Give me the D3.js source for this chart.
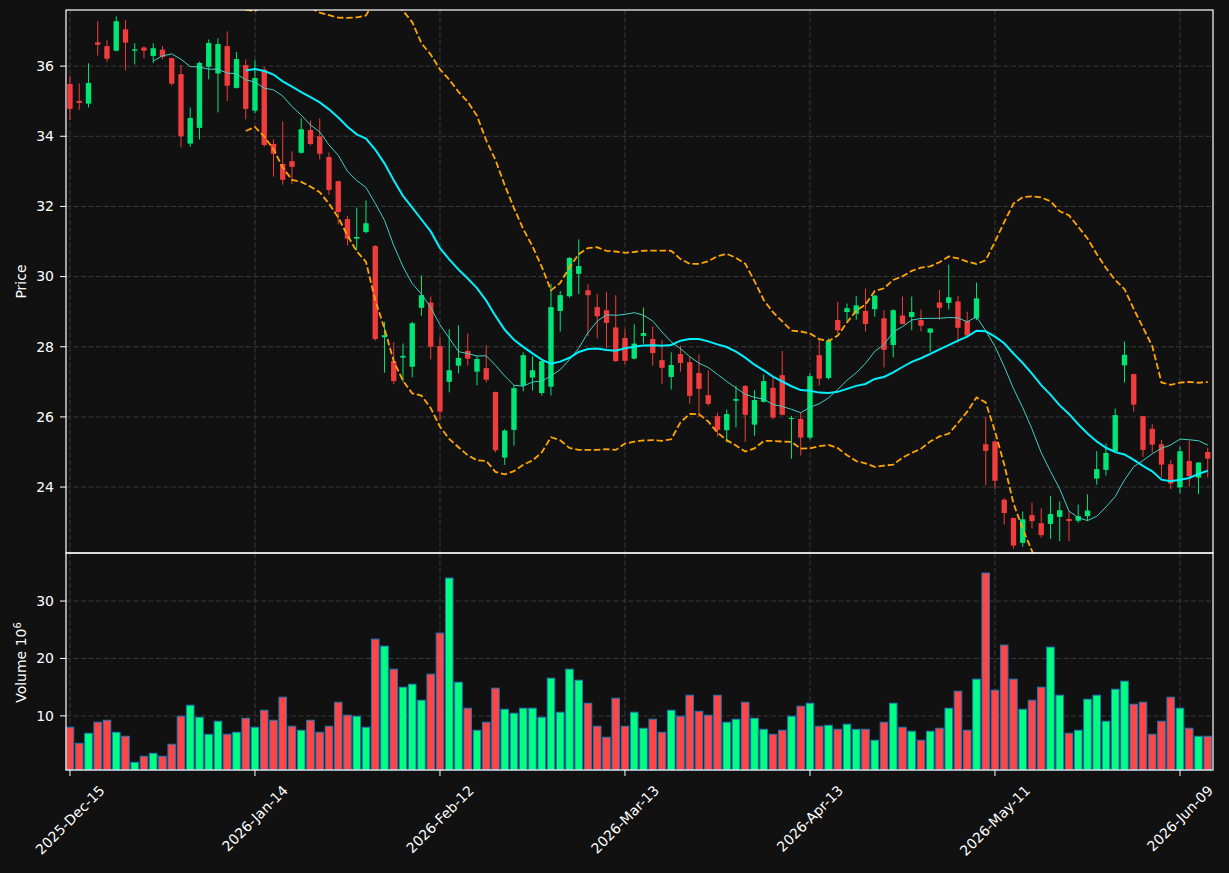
<!DOCTYPE html>
<html>
<head>
<meta charset="utf-8">
<script src="https://cdn.jsdelivr.net/npm/d3@7"></script>
<style>
  body { margin: 0; background: #111111; }
  text { font-family: "DejaVu Sans", sans-serif; fill: #ffffff; }
</style>
</head>
<body>
<svg id="chart"></svg>
<script>
// OHLC, one value per trading day (124 days)
const opens = [35.49,35.01,34.93,36.68,36.57,36.44,37.05,36.44,36.53,36.29,36.47,36.23,35.77,33.79,34.24,35.98,35.79,36.57,35.38,36.03,
  34.73,35.90,33.78,33.21,33.29,33.53,34.18,34.00,33.41,32.72,31.64,31.08,31.27,30.87,28.27,27.59,27.69,27.43,29.11,29.26,
  28.02,27.00,27.46,27.88,27.29,27.39,26.71,24.84,25.63,26.89,27.12,26.68,26.86,29.02,29.44,30.08,29.61,29.13,29.04,28.55,
  28.25,27.66,28.31,28.22,27.62,27.14,27.79,27.56,27.25,26.62,26.02,25.62,26.46,26.88,25.78,26.43,26.83,27.19,25.94,25.94,
  25.41,27.76,27.11,28.76,28.99,28.94,29.02,29.07,28.81,28.05,28.89,28.85,28.76,28.40,29.26,29.25,29.29,28.74,28.81,25.22,
  25.30,23.64,23.12,22.41,23.20,22.97,22.95,23.15,23.09,23.04,23.17,24.24,24.49,25.02,27.47,27.22,26.02,25.66,25.22,24.65,
  23.99,24.74,24.27,25.00];
const highs = [35.72,35.51,36.08,37.28,36.74,37.42,37.31,36.65,36.57,36.65,36.57,36.24,36.03,34.82,36.13,36.76,36.79,36.99,36.40,36.19,
  36.17,35.98,33.91,34.42,33.57,34.51,34.45,34.51,33.54,32.73,31.73,31.97,32.17,30.90,28.71,28.13,28.09,28.71,30.03,29.43,
  28.28,28.50,28.61,28.38,27.73,28.04,26.72,25.65,26.91,27.84,27.73,27.60,29.80,29.59,30.56,31.06,29.78,29.50,29.56,29.47,
  28.50,28.64,29.12,28.58,28.19,27.84,28.03,27.73,27.78,27.33,26.12,26.21,26.89,26.91,26.76,27.21,27.13,27.88,26.03,26.12,
  27.24,28.19,28.24,29.28,29.23,29.44,29.66,29.47,29.04,29.07,29.43,29.43,29.06,28.53,29.62,30.34,29.45,29.00,29.83,26.00,
  25.31,23.68,23.13,23.30,23.56,23.39,23.75,23.59,23.31,23.50,23.79,25.02,25.24,26.24,28.15,27.23,26.03,25.79,25.34,24.77,
  25.15,25.32,24.71,25.12];
const lows = [34.46,34.75,34.82,36.30,36.12,36.42,35.88,36.05,36.22,36.09,36.19,35.44,33.68,33.70,33.91,35.62,34.68,35.01,35.36,34.48,
  34.65,33.70,32.85,32.62,32.64,33.50,33.74,33.34,32.33,31.49,30.89,30.74,31.23,28.17,27.26,26.93,27.00,27.13,28.88,27.64,
  25.91,26.70,27.24,27.46,26.90,26.98,24.99,24.63,25.18,26.73,26.75,26.61,26.61,28.43,29.40,29.50,28.31,28.24,27.95,27.57,
  27.50,27.64,28.09,27.46,26.94,26.78,27.29,26.38,26.00,26.32,25.44,25.27,25.70,25.29,25.46,26.41,25.93,26.04,24.81,24.90,
  25.36,26.89,27.07,28.38,28.73,28.77,28.44,28.86,27.41,27.70,28.63,28.47,28.44,27.86,28.77,29.06,28.11,28.30,28.76,24.05,
  23.94,22.93,22.24,22.30,22.82,22.56,22.52,22.46,22.46,22.98,23.03,24.07,24.33,25.00,26.98,26.15,24.86,24.98,24.27,23.94,
  23.82,24.01,23.80,24.27];
const closes = [34.78,34.95,35.52,36.61,36.21,37.28,36.67,36.48,36.44,36.51,36.26,35.50,34.00,34.52,36.09,36.66,36.63,35.44,36.20,34.78,
  35.66,33.75,33.50,32.76,33.13,34.20,33.78,33.50,32.47,31.84,31.08,31.13,31.52,28.22,28.33,27.02,27.74,28.67,29.47,28.00,
  26.15,27.33,27.68,27.66,27.65,27.06,25.05,25.61,26.82,27.76,27.33,27.59,29.13,29.47,30.53,30.30,29.47,28.87,28.68,27.59,
  27.60,28.09,28.39,27.82,27.40,27.48,27.54,26.60,26.80,26.37,25.63,26.08,26.51,26.06,26.48,27.02,25.98,26.06,25.97,25.41,
  27.16,27.09,28.17,28.47,29.10,29.18,28.65,29.46,27.91,29.04,28.65,28.99,28.60,28.52,29.11,29.41,28.54,28.32,29.38,25.03,
  24.18,23.26,22.33,23.08,23.03,22.63,23.23,23.34,23.03,23.17,23.33,24.51,24.97,26.05,27.77,26.35,25.06,25.21,24.64,24.10,
  25.02,24.31,24.70,24.81];
// volume in millions
const volumes = [8.02,5.23,6.98,8.90,9.24,7.15,6.45,1.92,2.97,3.49,2.97,5.06,9.94,11.86,9.77,6.80,9.07,6.80,7.15,9.59,
  8.02,10.99,9.24,13.26,8.20,7.50,9.24,7.15,8.20,12.38,10.12,9.94,8.02,23.37,22.15,18.14,15.00,15.52,12.73,17.27,
  24.42,34.01,15.87,11.34,7.50,8.90,14.83,11.16,10.47,11.34,11.34,9.77,16.57,10.64,18.14,16.22,12.21,8.20,6.28,13.08,
  8.20,10.64,7.85,9.42,7.15,10.99,9.94,13.60,10.81,10.12,13.60,8.90,9.42,12.38,9.59,7.67,6.80,7.50,9.94,11.69,
  12.21,8.20,8.37,7.67,8.55,7.67,7.67,5.76,8.90,12.21,8.02,7.33,5.76,7.33,7.85,11.34,14.30,7.50,16.40,34.88,
  14.48,22.33,16.40,11.16,12.73,15.00,21.98,13.60,6.98,7.50,12.91,13.60,9.07,14.65,16.05,12.03,12.38,6.80,9.07,13.26,
  11.34,7.85,6.45,6.45];

// x tick labels, one every 20 trading days
const tickIndex = [0, 20, 40, 60, 80, 100, 120];
const tickLabels = ["2025-Dec-15","2026-Jan-14","2026-Feb-12","2026-Mar-13","2026-Apr-13","2026-May-11","2026-Jun-09"];
const priceTicks = [24, 26, 28, 30, 32, 34, 36];
const volumeTicks = [10, 20, 30];

const width = 1229, height = 873;
const left = 66, right = 1213;
const priceTop = 10, priceBottom = 553, volBottom = 770;

const upCandle = "#00e676", downCandle = "#f03c3c";
const upVol = "#00ff80", downVol = "#ff4545";

const svg = d3.select("#chart").attr("width", width).attr("height", height)
  .style("background", "#111111");

const n = closes.length;
const idx = d3.range(n);
const x = d3.scaleLinear().domain([-0.43, n - 0.43]).range([left, right]);
const step = x(1) - x(0);
const yP = d3.scaleLinear().domain([22.12, 37.6]).range([priceBottom, priceTop]);
const yV = d3.scaleLinear().domain([0.3 * d3.min(volumes), 1.1 * d3.max(volumes)]).range([volBottom, priceBottom]);

const isUp = i => closes[i] >= opens[i];

// moving averages and bollinger bands from the closes
function rolling(arr, len, fn) {
  return arr.map((_, i) => i < len - 1 ? null : fn(arr.slice(i - len + 1, i + 1)));
}
const ma10 = rolling(closes, 10, a => d3.mean(a));
const ma20 = rolling(closes, 20, a => d3.mean(a));
const sd20 = rolling(closes, 20, a => { const m = d3.mean(a); return Math.sqrt(d3.mean(a, v => (v - m) ** 2)); });
const bbUp = ma20.map((m, i) => m == null ? null : m + 2 * sd20[i]);
const bbLo = ma20.map((m, i) => m == null ? null : m - 2 * sd20[i]);

svg.append("defs").append("clipPath").attr("id", "clipP")
  .append("rect").attr("x", left).attr("y", priceTop).attr("width", right - left).attr("height", priceBottom - priceTop);

// grids
const gridColor = "#3a3a3a";
function grid(y0, y1, yScale, ticks) {
  const g = svg.append("g");
  g.selectAll(".gx").data(tickIndex).join("line")
    .attr("x1", d => x(d)).attr("x2", d => x(d)).attr("y1", y0).attr("y2", y1)
    .attr("stroke", gridColor).attr("stroke-dasharray", "5,2.5");
  g.selectAll(".gy").data(ticks).join("line")
    .attr("x1", left).attr("x2", right).attr("y1", d => yScale(d)).attr("y2", d => yScale(d))
    .attr("stroke", gridColor).attr("stroke-dasharray", "5,2.5");
}
grid(priceTop, priceBottom, yP, priceTicks);
grid(priceBottom, volBottom, yV, volumeTicks);

// candles
const candles = svg.append("g").attr("clip-path", "url(#clipP)");
candles.selectAll("line.wick").data(idx).join("line")
  .attr("x1", i => x(i)).attr("x2", i => x(i))
  .attr("y1", i => yP(highs[i])).attr("y2", i => yP(lows[i]))
  .attr("stroke", i => isUp(i) ? upCandle : downCandle).attr("stroke-width", 1);
const bodyW = step * 0.58;
candles.selectAll("rect.body").data(idx).join("rect")
  .attr("x", i => x(i) - bodyW / 2).attr("width", bodyW)
  .attr("y", i => yP(Math.max(opens[i], closes[i])))
  .attr("height", i => Math.max(1, Math.abs(yP(opens[i]) - yP(closes[i]))))
  .attr("fill", i => isUp(i) ? upCandle : downCandle);

// indicator lines
const lineGen = arr => d3.line().defined(i => arr[i] != null).x(i => x(i)).y(i => yP(arr[i]))(idx);
const lines = svg.append("g").attr("clip-path", "url(#clipP)").attr("fill", "none");
lines.append("path").attr("d", lineGen(bbUp)).attr("stroke", "#ffa500").attr("stroke-width", 1.8).attr("stroke-dasharray", "6.5,2.8");
lines.append("path").attr("d", lineGen(bbLo)).attr("stroke", "#ffa500").attr("stroke-width", 1.8).attr("stroke-dasharray", "6.5,2.8");
lines.append("path").attr("d", lineGen(ma10)).attr("stroke", "#3fcfc4").attr("stroke-width", 1);
lines.append("path").attr("d", lineGen(ma20)).attr("stroke", "#00f0ff").attr("stroke-width", 2);

// volume bars
const volW = step * 0.82;
svg.append("g").selectAll("rect").data(idx).join("rect")
  .attr("x", i => x(i) - volW / 2).attr("width", volW)
  .attr("y", i => yV(volumes[i])).attr("height", i => volBottom - yV(volumes[i]))
  .attr("fill", i => isUp(i) ? upVol : downVol)
  .attr("stroke", "#1f77b4").attr("stroke-width", 1);

// frames
[[priceTop, priceBottom], [priceBottom, volBottom]].forEach(([t, b]) => {
  svg.append("rect").attr("x", left).attr("y", t).attr("width", right - left).attr("height", b - t)
    .attr("fill", "none").attr("stroke", "#ffffff").attr("stroke-width", 1.2);
});

// y axes
const fs = 14;
function yAxis(scale, ticks) {
  const g = svg.append("g");
  ticks.forEach(t => {
    g.append("line").attr("x1", left - 6).attr("x2", left).attr("y1", scale(t)).attr("y2", scale(t))
      .attr("stroke", "#ffffff");
    g.append("text").attr("x", left - 12).attr("y", scale(t)).attr("dy", "0.35em")
      .attr("text-anchor", "end").style("font-size", fs + "px").text(t);
  });
}
yAxis(yP, priceTicks);
yAxis(yV, volumeTicks);

svg.append("text").attr("transform", `translate(26,${(priceTop + priceBottom) / 2}) rotate(-90)`)
  .attr("text-anchor", "middle").style("font-size", fs + "px").text("Price");
const vl = svg.append("text").attr("transform", `translate(26,${(priceBottom + volBottom) / 2 + 1}) rotate(-90)`)
  .attr("text-anchor", "middle").style("font-size", fs + "px");
vl.append("tspan").text("Volume  10");
vl.append("tspan").attr("dy", "-0.5em").style("font-size", "10px").text("6");

// x axis ticks and rotated labels
tickIndex.forEach((t, k) => {
  svg.append("line").attr("x1", x(t)).attr("x2", x(t)).attr("y1", volBottom).attr("y2", volBottom + 6)
    .attr("stroke", "#ffffff");
  const g = svg.append("g");
  const txt = g.append("text").attr("text-anchor", "middle").attr("dy", "0.35em")
    .style("font-size", fs + "px").text(tickLabels[k]);
  const L = txt.node().getComputedTextLength();
  const half = (L + fs) * Math.SQRT1_2 / 2;
  g.attr("transform", `translate(${x(t)},${volBottom + 13 + half}) rotate(-45)`);
});
</script>
</body>
</html>
